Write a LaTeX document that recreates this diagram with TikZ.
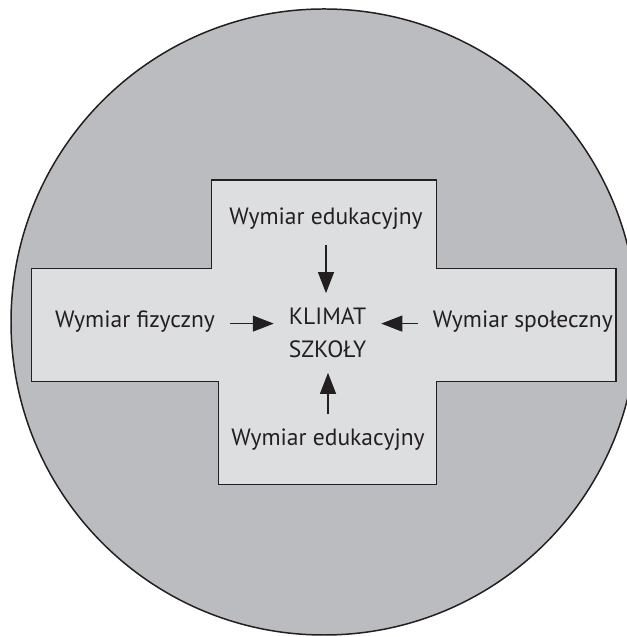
\documentclass[tikz,border=0pt]{standalone}
\usepackage{fontspec}
\setmainfont{PT Sans}
\usetikzlibrary{arrows.meta}
\definecolor{outergrey}{RGB}{187,188,191}
\definecolor{innergrey}{RGB}{221,222,224}
\definecolor{linedark}{RGB}{35,31,32}
\begin{document}
\begin{tikzpicture}
\tikzset{
	label/.style={inner sep=0pt,
		outer sep=0.3cm,
		text=linedark,
		font=\fontsize{13.4}{18.6}\selectfont
	},
	flow/.style={draw=linedark,
		line width=0.6pt,
		-{Triangle[length=0.42cm, width=0.32cm]}
}}
\useasboundingbox (0,0) rectangle (12.54,12.74);
\draw[draw=linedark, fill=outergrey, line width=0.85pt] (6.48,6.30) circle (6.26);
\draw[draw=linedark, fill=innergrey, line width=0.85pt] (4.226,9.14) -- (8.726,9.14) -- (8.726,7.374) -- (12.32,7.374) -- (12.32,5.106) -- (8.726,5.106) -- (8.726,3.054) -- (4.366,3.054) -- (4.366,5.106) -- (0.634,5.106) -- (0.634,7.374) -- (4.226,7.374) -- cycle;
\node[label, align=center] (KLIMAT) at (6.55,6.08) {KLIMAT\\SZKOŁY};
\node[label, anchor=base] (EDUTOP) at (6.52,8.24) {Wymiar edukacyjny};
\node[label, anchor=base] (EDUBOT) at (6.56,3.82) {Wymiar edukacyjny};
\node[label, anchor=base] (FIZ) at (2.70,6.18) {Wymiar fizyczny};
\node[label, anchor=base] (SPOL) at (10.456,6.18) {Wymiar społeczny};
{\draw[flow] (EDUTOP.south) -- (EDUTOP.south |- KLIMAT.north);}
{\draw[flow] (EDUBOT.north) -- (EDUBOT.north |- KLIMAT.south);}
{\draw[flow] (FIZ.mid east) -- (FIZ.mid east -| KLIMAT.west);}
{\draw[flow] (SPOL.mid west) -- (SPOL.mid west -| KLIMAT.east);}
\end{tikzpicture}
\end{document}
